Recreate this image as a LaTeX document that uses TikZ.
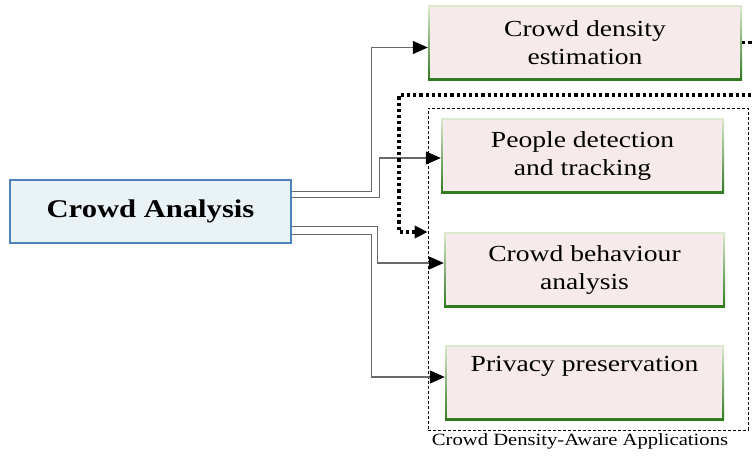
\documentclass[tikz,border=0pt]{standalone}
\usepackage{fontspec}
\setmainfont{Liberation Serif}[FakeStretch=1.2]
\usetikzlibrary{arrows.meta,calc}

\definecolor{rootfill}{HTML}{E9F2F5}
\definecolor{rootline}{HTML}{4F81BD}
\definecolor{appfill}{HTML}{F6EAEA}
\definecolor{greenlight}{HTML}{DCEBCF}
\definecolor{greendark}{HTML}{2F7A1F}
\definecolor{linkgray}{HTML}{6A6A6A}

\tikzset{
  rootbox/.style={draw=rootline, line width=1.2pt, fill=rootfill,
    minimum width=281pt, minimum height=63pt, inner sep=0pt,
    font=\fontsize{25.5}{28}\selectfont\bfseries},
  appbox/.style={minimum height=75pt, inner sep=0pt, align=center,
    top color=greenlight, bottom color=greendark,
    font=\fontsize{23}{28}\selectfont,
    path picture={\fill[appfill]
      ([shift={(1.6pt,-1.6pt)}]path picture bounding box.north west) rectangle
      ([shift={(-1.6pt,1.6pt)}]path picture bounding box.south east);}},
  groupbox/.style={draw, densely dashed, line width=0.7pt,
    minimum width=320pt, minimum height=322pt, inner sep=0pt},
  link/.style={draw=linkgray, line width=1.2pt,
    -{Triangle[length=15pt,width=13pt,color=black]}},
  feedback/.style={draw=black, line width=3.2pt, dash pattern=on 3.2pt off 3pt,
    -{Triangle[length=13pt,width=12pt]}},
}

\begin{document}
\begin{tikzpicture}[x=1pt,y=-1pt]
  \useasboundingbox (0,0) rectangle (754,456);
  \clip (0,0) rectangle (754,456);

  % group frame for the density-aware applications
  \node[groupbox,
        label={[font=\fontsize{17.2}{19}\selectfont, xshift=-8pt, yshift=0pt]below:Crowd Density-Aware Applications}]
    (apps) at (588,269) {};

  % main task and its sub-tasks
  \node[rootbox] (ca) at (150.5,211.5) {Crowd Analysis};
  \node[appbox, minimum width=314pt] (den)  at (585,42.5)  {Crowd density\\estimation};
  \node[appbox, minimum width=283pt] (det)  at (582.5,155.5) {People detection\\and tracking};
  \node[appbox, minimum width=281pt] (beh)  at (584.5,269.5) {Crowd behaviour\\analysis};
  \node[appbox, minimum width=279pt] (priv) at (584.5,382.5) {Privacy preservation\\\strut};

  % links from the main task
  \draw[link] ([yshift=-12pt]ca.north east) -- ++(80,0) |- ([yshift=-5pt]den.west);
  \draw[link] ([yshift=-18pt]ca.north east) -- ++(88,0) |- ([yshift=-2.5pt]det.west);
  \draw[link] ([yshift=17pt]ca.south east) -- ++(86,0) |- ([yshift=6.5pt]beh.west);
  \draw[link] ([yshift=9pt]ca.south east) -- ++(80,0) |- ([yshift=5.5pt]priv.west);

  % density estimates feed the applications
  \coordinate (turn) at (770,95);
  \draw[feedback] (den.east) -- (den.east -| turn) -- (turn) -- (399,95)
    -- (399,232) -- (apps.west |- 0,232);
\end{tikzpicture}
\end{document}
